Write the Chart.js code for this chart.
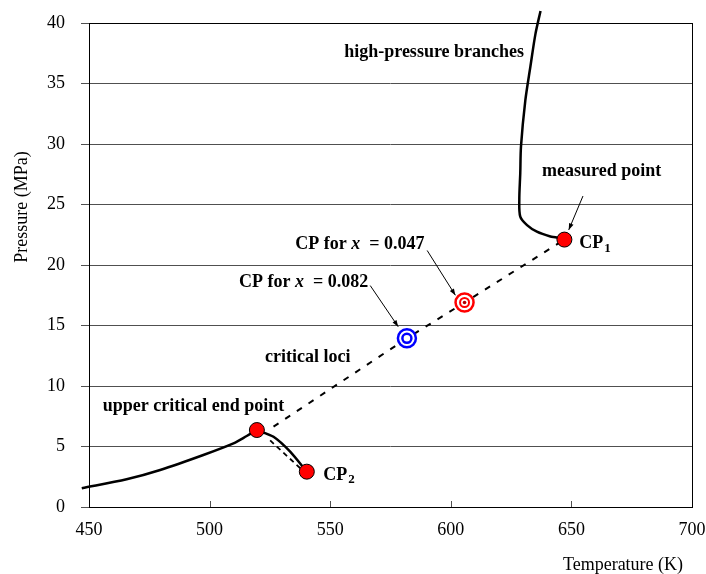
<!DOCTYPE html>
<html>
<head>
<meta charset="utf-8">
<script src="https://cdn.jsdelivr.net/npm/chart.js@4.4.1/dist/chart.umd.min.js"></script>
<style>
  html, body { margin: 0; padding: 0; background: #fff; }
  #wrap { width: 706px; height: 574px; }
</style>
</head>
<body>
<div id="wrap"><canvas id="phaseChart"></canvas></div>
<script>
// Values: temperature (K), pressure (MPa)
const vaporT = [447, 465.6, 479.5, 497.4, 509.9, 515.4, 519.6];
const vaporP = [1.55, 2.29, 3.06, 4.3, 5.26, 5.87, 6.36];
const ucepCp2T = [519.6, 526.5, 533.4, 540.3];
const ucepCp2P = [6.36, 5.8, 4.57, 2.92];
const highT = [647.1, 643.4, 641.3, 635.7, 631.6, 628.8, 628.4, 628.8, 629.1, 630.9, 633.0, 635.1, 637.2];
const highP = [22.1, 22.3, 22.35, 22.75, 23.3, 24.0, 25.4, 27.6, 29.8, 33.6, 36.4, 39.1, 41.0];
const lociT = [526.5, 581.8, 605.7, 647.1];
const lociP = [6.64, 13.94, 16.9, 22.1];
const shortDashT = [525.1, 537.6];
const shortDashP = [5.5, 3.2];
const cpT = [647.1, 519.6, 540.3];   // CP1, UCEP, CP2
const cpP = [22.1, 6.36, 2.92];
const blueT = [581.8];  // CP for x = 0.082
const blueP = [13.94];
const redT = [605.7];   // CP for x = 0.047
const redP = [16.9];
const xTicks = [450, 500, 550, 600, 650, 700];
const yTicks = [0, 5, 10, 15, 20, 25, 30, 35, 40];

const SERIF = "'Liberation Serif', 'Times New Roman', serif";

function pts(xs, ys) {
  return xs.map((x, i) => ({ x: x, y: ys[i] }));
}

// text notes, anchored in data units (left edge, vertical middle)
const notes = [
  { t: 555.8, p: 37.6, parts: [['high-pressure branches', 'bold']] },
  { t: 637.8, p: 27.7, parts: [['measured point', 'bold']] },
  { t: 653.3, p: 21.8, parts: [['CP', 'bold'], ['1', 'sub']] },
  { t: 535.5, p: 21.7, parts: [['CP for ', 'bold'], ['x', 'italic'], ['  = 0.047', 'bold']] },
  { t: 512.2, p: 18.6, parts: [['CP for ', 'bold'], ['x', 'italic'], ['  = 0.082', 'bold']] },
  { t: 523.0, p: 12.4, parts: [['critical loci', 'bold']] },
  { t: 455.7, p: 8.29, parts: [['upper critical end point', 'bold']] },
  { t: 547.1, p: 2.64, parts: [['CP', 'bold'], ['2', 'sub']] }
];
const arrows = [
  { t0: 654.8, p0: 25.7, t1: 648.9, p1: 22.9 },
  { t0: 590.2, p0: 21.2, t1: 601.9, p1: 17.5 },
  { t0: 566.6, p0: 18.3, t1: 578.2, p1: 14.9 }
];

const extrasPlugin = {
  id: 'extras',
  beforeDatasetsDraw(chart) {
    const ctx = chart.ctx;
    const a = chart.chartArea;
    const xs = chart.scales.x;
    ctx.save();
    // inward tick marks on the bottom axis
    ctx.strokeStyle = '#505050';
    ctx.lineWidth = 1;
    xTicks.slice(1, -1).forEach(v => {
      const px = Math.round(xs.getPixelForValue(v)) + 0.5;
      ctx.beginPath();
      ctx.moveTo(px, a.bottom);
      ctx.lineTo(px, a.bottom - 6);
      ctx.stroke();
    });
    // plot frame
    ctx.strokeStyle = '#000';
    ctx.strokeRect(Math.round(a.left) + 0.5, Math.round(a.top) + 0.5,
                   Math.round(a.right - a.left), Math.round(a.bottom - a.top));
    ctx.restore();
  },
  afterDraw(chart) {
    const ctx = chart.ctx;
    const xs = chart.scales.x, ys = chart.scales.y;
    ctx.save();
    ctx.fillStyle = '#000';
    ctx.textBaseline = 'middle';
    ctx.textAlign = 'left';

    notes.forEach(n => {
      let x = xs.getPixelForValue(n.t);
      const y = ys.getPixelForValue(n.p);
      n.parts.forEach(([txt, style]) => {
        if (style === 'sub') {
          ctx.font = 'bold 13px ' + SERIF;
          ctx.fillText(txt, x + 1, y + 5);
        } else {
          ctx.font = (style === 'italic' ? 'italic bold ' : 'bold ') + '18px ' + SERIF;
          ctx.fillText(txt, x, y);
        }
        x += ctx.measureText(txt).width;
      });
    });

    // thin arrows with small heads
    ctx.strokeStyle = '#000';
    ctx.lineWidth = 1;
    arrows.forEach(ar => {
      const x0 = xs.getPixelForValue(ar.t0), y0 = ys.getPixelForValue(ar.p0);
      const x1 = xs.getPixelForValue(ar.t1), y1 = ys.getPixelForValue(ar.p1);
      const ang = Math.atan2(y1 - y0, x1 - x0);
      ctx.beginPath();
      ctx.moveTo(x0, y0);
      ctx.lineTo(x1, y1);
      ctx.stroke();
      ctx.beginPath();
      ctx.moveTo(x1, y1);
      ctx.lineTo(x1 - 7 * Math.cos(ang - 0.35), y1 - 7 * Math.sin(ang - 0.35));
      ctx.lineTo(x1 - 7 * Math.cos(ang + 0.35), y1 - 7 * Math.sin(ang + 0.35));
      ctx.closePath();
      ctx.fill();
    });

    // axis titles
    ctx.font = '18px ' + SERIF;
    ctx.textAlign = 'center';
    ctx.fillText('Temperature (K)', 623, 565);
    ctx.translate(22, 207);
    ctx.rotate(-Math.PI / 2);
    ctx.fillText('Pressure (MPa)', 0, 0);
    ctx.restore();
  }
};

const lineBase = {
  showLine: true,
  pointRadius: 0,
  borderColor: '#000',
  backgroundColor: '#000',
  clip: false
};

new Chart(document.getElementById('phaseChart'), {
  type: 'scatter',
  data: {
    datasets: [
      { data: pts(redT, redP), pointRadius: 1.8, backgroundColor: '#b00000', borderWidth: 0 },
      { data: pts(redT, redP), pointRadius: 4.5, backgroundColor: '#fff', borderColor: '#ff0000', borderWidth: 2 },
      { data: pts(redT, redP), pointRadius: 9, backgroundColor: '#fff', borderColor: '#ff0000', borderWidth: 2.5 },
      { data: pts(blueT, blueP), pointRadius: 4.5, backgroundColor: '#fff', borderColor: '#0000ff', borderWidth: 2.5 },
      { data: pts(blueT, blueP), pointRadius: 9, backgroundColor: '#fff', borderColor: '#0000ff', borderWidth: 2.5 },
      { data: pts(cpT, cpP), pointRadius: 7.5, backgroundColor: '#ff0000', borderColor: '#000', borderWidth: 1 },
      Object.assign({ data: pts(vaporT, vaporP), borderWidth: 2.5, tension: 0.3 }, lineBase),
      Object.assign({ data: pts(ucepCp2T, ucepCp2P), borderWidth: 2.5, tension: 0.2 }, lineBase),
      Object.assign({ data: pts(highT, highP), borderWidth: 2.5, tension: 0.3 }, lineBase),
      Object.assign({ data: pts(lociT, lociP), borderWidth: 2, borderDash: [6, 8] }, lineBase),
      Object.assign({ data: pts(shortDashT, shortDashP), borderWidth: 1.8, borderDash: [5, 4] }, lineBase)
    ]
  },
  options: {
    responsive: true,
    maintainAspectRatio: false,
    animation: false,
    events: [],
    layout: { padding: { top: 23, right: 14, left: 0, bottom: 0 } },
    plugins: {
      legend: { display: false },
      tooltip: { enabled: false },
      title: { display: false }
    },
    scales: {
      x: {
        type: 'linear',
        min: 450,
        max: 700,
        afterBuildTicks: s => { s.ticks = xTicks.map(v => ({ value: v })); },
        afterFit: s => { s.height = 67; s.paddingLeft = 0; s.paddingRight = 0; },
        border: { display: false },
        grid: { display: false },
        ticks: {
          color: '#000',
          padding: 4,
          maxRotation: 0,
          font: { family: SERIF, size: 18 }
        }
      },
      y: {
        type: 'linear',
        min: 0,
        max: 40,
        afterBuildTicks: s => { s.ticks = yTicks.map(v => ({ value: v })); },
        afterFit: s => { s.width = 89; s.paddingTop = 0; s.paddingBottom = 0; },
        border: { display: false },
        grid: { color: '#505050', lineWidth: 1, tickLength: 8, drawTicks: true },
        ticks: {
          color: '#000',
          padding: 16,
          font: { family: SERIF, size: 18 }
        }
      }
    }
  },
  plugins: [extrasPlugin]
});
</script>
</body>
</html>
